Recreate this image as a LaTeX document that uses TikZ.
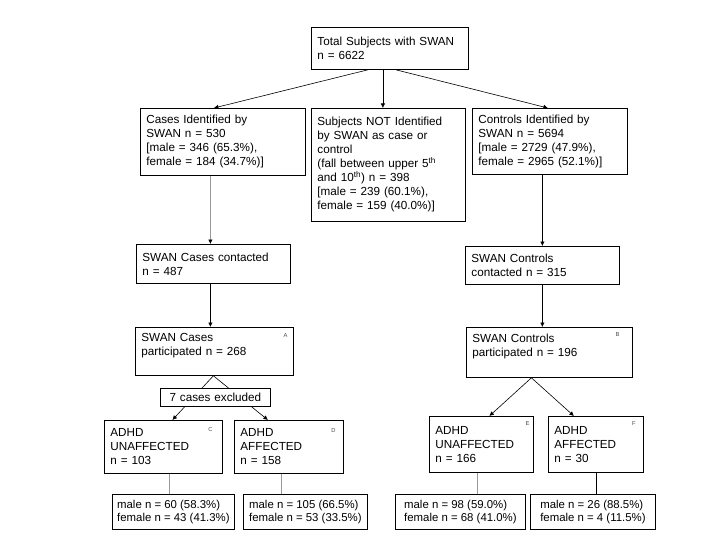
\documentclass[tikz,border=0pt]{standalone}
\usepackage{fontspec}
\setmainfont{Liberation Sans}
\usetikzlibrary{arrows.meta, positioning, calc}
\definecolor{swanGray}{HTML}{9A9A9A}

\begin{document}
\begin{tikzpicture}[x=1pt, y=-1pt,
  box/.style={draw, line width=0.8pt, anchor=north west, align=left,
    inner xsep=6pt, inner ysep=2pt, font=\fontsize{11.7}{14}\selectfont},
  small/.style={box, inner xsep=3pt, font=\fontsize{11.4}{13}\selectfont},
  tag/.style={anchor=north east, inner sep=0pt, font=\fontsize{5.8}{6}\selectfont, text=black!70},
  arrow/.style={-{Latex[length=4.5pt, width=4.5pt, color=black]}, line width=0.6pt},
  plain/.style={line width=0.6pt},
  link/.style={line width=0.6pt, color=swanGray}
]
  \path[fill=white, use as bounding box] (0,0) rectangle (720,540);

  % Screening
  \node[box, text width=145pt, minimum height=42pt] (total) at (311,27) {Total Subjects with SWAN\\n = 6622};
  \node[box, text width=153pt, minimum height=67pt] (cases) at (140,108) {Cases Identified by\\SWAN n = 530\\{[}male = 346 (65.3\%),\\female = 184 (34.7\%)]};
  \node[box, text width=142pt, minimum height=113pt] (notid) at (311,108) {Subjects NOT Identified\\by SWAN as case or\\control\\(fall between upper 5\textsuperscript{th}\\and 10\textsuperscript{th}) n = 398\\{[}male = 239 (60.1\%),\\female = 159 (40.0\%)]};
  \node[box, text width=143pt, minimum height=66pt] (controls) at (472,108) {Controls Identified by\\SWAN n = 5694\\{[}male = 2729 (47.9\%),\\female = 2965 (52.1\%)]};

  % Contact and participation
  \node[box, text width=142pt, minimum height=39pt] (cc) at (136,244) {SWAN Cases contacted\\n = 487};
  \node[box, text width=146pt, minimum height=48pt] (cp) at (135,327) {SWAN Cases\\participated n = 268\\ \mbox{}};
  \node[box, text width=142pt, minimum height=38pt] (ctc) at (465,246) {SWAN Controls\\contacted n = 315};
  \node[box, text width=154pt, minimum height=50pt] (ctp) at (466,327) {SWAN Controls\\participated n = 196\\ \mbox{}};

  % ADHD groups
  \node[box, text width=106pt, minimum height=53pt] (ca) at (104,420) {ADHD\\UNAFFECTED\\n = 103};
  \node[box, text width=97pt, minimum height=53pt] (da) at (234,420) {ADHD\\AFFECTED\\n = 158};
  \node[box, text width=92pt, minimum height=56pt] (ea) at (429,416) {ADHD\\UNAFFECTED\\n = 166};
  \node[box, text width=83pt, minimum height=56pt] (fa) at (548,416) {ADHD\\AFFECTED\\n = 30};

  % Sex split
  \node[small, minimum width=122pt, minimum height=35pt] (b1) at (112,494) {male n = 60 (58.3\%)\\female n = 43 (41.3\%)};
  \node[small, minimum width=124pt, minimum height=35pt] (b2) at (243,494) {male n = 105 (66.5\%)\\female n = 53 (33.5\%)};
  \node[small, minimum width=130pt, minimum height=35pt] (b3) at (395,494) {male n = 98 (59.0\%)\\female n = 68 (41.0\%)};
  \node[small, minimum width=125pt, minimum height=35pt] (b4) at (530,494) {male n = 26 (88.5\%)\\female n = 4 (11.5\%)};

  % Corner tags
  \node[tag] (tagA) at ([xshift=-6pt, yshift=-6pt]cp.north east) {A};
  \node[tag] (tagB) at ([xshift=-13pt, yshift=-5pt]ctp.north east) {B};
  \node[tag] (tagC) at ([xshift=-10pt, yshift=-7pt]ca.north east) {C};
  \node[tag] (tagD) at ([xshift=-8pt, yshift=-8pt]da.north east) {D};
  \node[tag] (tagE) at ([xshift=-4pt, yshift=-5pt]ea.north east) {E};
  \node[tag] (tagF) at ([xshift=-8pt, yshift=-5pt]fa.north east) {F};

  % Arrows
  \draw[arrow] ([xshift=-22pt]total.south) -- ([xshift=-9pt]cases.north);
  \draw[arrow] ([xshift=-7pt]total.south) -- ([xshift=-7pt]total.south |- notid.north);
  \draw[arrow] ([xshift=6pt]total.south) -- ([xshift=-2pt]controls.north);

  \draw[arrow, swanGray] ([xshift=-3pt]cc.north |- cases.south) -- ([xshift=-3pt]cc.north);
  \draw[arrow] ([xshift=-3pt]cc.south) -- ([xshift=-3pt]cc.south |- cp.north);
  \draw[arrow] ([xshift=-1pt]cp.south) -- ([xshift=9pt]ca.north);
  \draw[arrow] ([xshift=-1pt]cp.south) -- ([xshift=-21pt]da.north);

  \draw[arrow] (ctc.north |- controls.south) -- (ctc.north);
  \draw[arrow] (ctc.south) -- (ctc.south |- ctp.north);
  \draw[arrow] ([xshift=-18pt]ctp.south) -- ([xshift=8pt]ea.north);
  \draw[arrow] ([xshift=-18pt]ctp.south) -- ([xshift=-22pt]fa.north);

  \draw[link] ([xshift=6pt]ca.south) -- ([xshift=6pt]ca.south |- b1.north);
  \draw[link] ([xshift=-7.5pt]da.south) -- ([xshift=-7.5pt]da.south |- b2.north);
  \draw[link] ([xshift=-4pt]ea.south) -- ([xshift=-4pt]ea.south |- b3.north);
  \draw[plain] (fa.south) -- (fa.south |- b4.north);

  % Exclusion note over the split
  \node[box, fill=white, align=center, text width=98pt, minimum height=18pt, inner ysep=1pt] (excl) at (160,388) {7 cases excluded};
\end{tikzpicture}
\end{document}
